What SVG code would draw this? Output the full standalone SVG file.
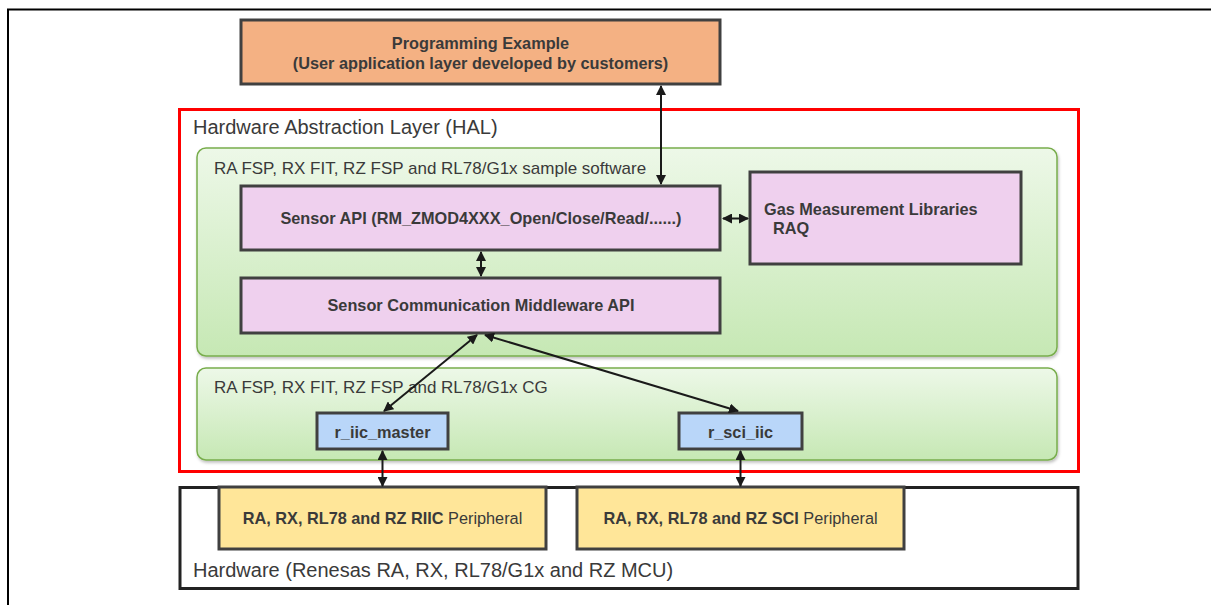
<svg xmlns="http://www.w3.org/2000/svg" width="1211" height="605" viewBox="0 0 1211 605">
<style>
text{font-family:"Liberation Sans",Arial,sans-serif;fill:#3a3a3a}
.b{font-weight:bold;font-size:16.3px}
.lbl{font-size:17px}
.big{font-size:20px}
.p{font-size:16.3px}
.box{stroke:#404040;stroke-width:3}
.grp{stroke:#78AD4C;stroke-width:1.5;fill:url(#g)}
.c{stroke:#1a1a1a;stroke-width:2;fill:none;marker-start:url(#a);marker-end:url(#a)}
</style>
<defs>
<linearGradient id="g" x1="0" y1="0" x2="0" y2="1">
<stop offset="0" stop-color="#EDF8E8"/>
<stop offset="1" stop-color="#C6E8B4"/>
</linearGradient>
<filter id="sh" x="-5%" y="-5%" width="110%" height="120%">
<feDropShadow dx="1" dy="2" stdDeviation="1.5" flood-color="#000" flood-opacity="0.25"/>
</filter>
<marker id="a" viewBox="0 0 10 10" refX="9" refY="5" markerWidth="5" markerHeight="5" orient="auto-start-reverse" markerUnits="strokeWidth">
<path d="M0,0 L10,5 L0,10 z" fill="#1a1a1a"/>
</marker>
</defs>
<rect width="1211" height="605" fill="#fff"/>
<path d="M8,605 V9.5 H1211" fill="none" stroke="#000" stroke-width="2"/>

<g id="app">
<rect class="box" x="241" y="20" width="479" height="64" fill="#F4B183"/>
<text class="b" x="480.5" y="49" text-anchor="middle">Programming Example</text>
<text class="b" x="480.5" y="69" text-anchor="middle">(User application layer developed by customers)</text>
</g>

<g id="hal">
<rect x="179.5" y="109.5" width="899" height="362" fill="none" stroke="#FF0000" stroke-width="3"/>
<text class="big" x="193" y="134">Hardware Abstraction Layer (HAL)</text>
</g>

<g id="sample">
<rect class="grp" x="197" y="148" width="860" height="208" rx="9" filter="url(#sh)"/>
<text class="lbl" x="214" y="174">RA FSP, RX FIT, RZ FSP and RL78/G1x sample software</text>
</g>

<g id="cg">
<rect class="grp" x="197" y="368" width="860" height="92" rx="9" filter="url(#sh)"/>
<text class="lbl" x="214" y="393">RA FSP, RX FIT, RZ FSP and RL78/G1x CG</text>
</g>

<g id="sensorapi">
<rect class="box" x="241" y="186" width="479" height="64" fill="#EFD0EE"/>
<text class="b" x="481" y="224" text-anchor="middle">Sensor API (RM_ZMOD4XXX_Open/Close/Read/......)</text>
</g>

<g id="gas">
<rect class="box" x="750" y="172" width="271" height="92" fill="#EFD0EE"/>
<text class="b" x="764" y="215">Gas Measurement Libraries</text>
<text class="b" x="773" y="234">RAQ</text>
</g>

<g id="middleware">
<rect class="box" x="241" y="278" width="479" height="55" fill="#EFD0EE"/>
<text class="b" x="481" y="311" text-anchor="middle">Sensor Communication Middleware API</text>
</g>

<g id="riic">
<rect class="box" x="317" y="413" width="131" height="36" fill="#B9D6F9"/>
<text class="b" x="382.5" y="438" text-anchor="middle">r_iic_master</text>
</g>

<g id="sciiic">
<rect class="box" x="679" y="413" width="123" height="36" fill="#B9D6F9"/>
<text class="b" x="740.5" y="438" text-anchor="middle">r_sci_iic</text>
</g>

<g id="hardware">
<rect x="180" y="487.5" width="898" height="101" fill="#fff" stroke="#222" stroke-width="3"/>
<text class="big" x="193" y="577">Hardware (Renesas RA, RX, RL78/G1x and RZ MCU)</text>
</g>

<g id="riicper">
<rect class="box" x="219" y="487" width="327" height="62" fill="#FFE699"/>
<text class="p" x="382.5" y="524" text-anchor="middle"><tspan font-weight="bold">RA, RX, RL78 and RZ RIIC</tspan> Peripheral</text>
</g>

<g id="sciper">
<rect class="box" x="577" y="487" width="327" height="62" fill="#FFE699"/>
<text class="p" x="740.5" y="524" text-anchor="middle"><tspan font-weight="bold">RA, RX, RL78 and RZ SCI</tspan> Peripheral</text>
</g>

<g id="connectors">
<line class="c" x1="661" y1="86" x2="661" y2="184"/>
<line class="c" x1="723" y1="218.5" x2="748" y2="218.5"/>
<line class="c" x1="481" y1="252" x2="481" y2="276"/>
<line class="c" x1="477" y1="335" x2="384" y2="411"/>
<line class="c" x1="485" y1="335" x2="738" y2="411"/>
<line class="c" x1="382.5" y1="451" x2="382.5" y2="486"/>
<line class="c" x1="740.5" y1="451" x2="740.5" y2="486"/>
</g>
</svg>
